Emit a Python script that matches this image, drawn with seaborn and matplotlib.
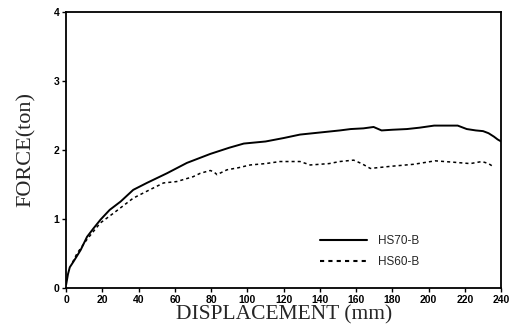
import matplotlib
matplotlib.use('Agg')
import matplotlib.pyplot as plt
import numpy as np
import pandas as pd
import seaborn as sns

# values
hs70_x = [0, 1, 2, 4, 8, 11.5, 15, 19, 24, 30, 37, 44.5, 55.6, 66.6, 79.5, 90, 98, 110, 120,
          129, 140, 151, 157, 164, 169.6, 174, 180, 188, 195, 203, 210, 216, 221, 226, 230,
          233, 236, 238, 240]
hs70_y = [0.05, 0.2, 0.3, 0.38, 0.55, 0.74, 0.86, 0.99, 1.13, 1.25, 1.42, 1.52, 1.66, 1.81,
          1.94, 2.03, 2.09, 2.12, 2.17, 2.22, 2.25, 2.28, 2.30, 2.31, 2.33, 2.28, 2.29, 2.30,
          2.32, 2.35, 2.35, 2.35, 2.30, 2.28, 2.27, 2.24, 2.19, 2.15, 2.12]
hs60_x = [3.5, 6, 11.4, 18.8, 26, 37, 44.5, 53.7, 61, 70, 74, 79.5, 81.5, 83.2, 88.7, 95,
          101.5, 110, 118, 129, 134.7, 145, 151, 158.6, 163, 167.8, 178.8, 191.7, 203.6,
          213.7, 222.9, 229.4, 233, 236]
hs60_y = [0.37, 0.5, 0.7, 0.94, 1.08, 1.30, 1.40, 1.52, 1.54, 1.61, 1.66, 1.70, 1.68, 1.64,
          1.71, 1.74, 1.78, 1.80, 1.83, 1.83, 1.78, 1.80, 1.83, 1.85, 1.80, 1.73, 1.76, 1.79,
          1.84, 1.82, 1.80, 1.83, 1.80, 1.75]
series = ['HS70-B', 'HS60-B']
x_ticks = list(range(0, 241, 20))
y_ticks = [0, 1, 2, 3, 4]

df = pd.concat([
    pd.DataFrame({'disp': hs70_x, 'force': hs70_y, 'specimen': series[0]}),
    pd.DataFrame({'disp': hs60_x, 'force': hs60_y, 'specimen': series[1]}),
])

sns.set_style('ticks')
fig = plt.figure(figsize=(5.21, 3.31), dpi=100)
ax = fig.add_axes([0.127, 0.130, 0.835, 0.835])

sns.lineplot(data=df, x='disp', y='force', hue='specimen', style='specimen',
             palette={'HS70-B': 'black', 'HS60-B': 'black'},
             dashes={'HS70-B': '', 'HS60-B': (2, 2)},
             sort=False, estimator=None, ax=ax)
for line, lw in zip(ax.lines, [1.4, 1.1]):
    line.set_linewidth(lw)

ax.set_xlim(0, 240)
ax.set_ylim(0, 4)
ax.set_xticks(x_ticks)
ax.set_yticks(y_ticks)
ax.tick_params(direction='out', length=3, width=1, colors='black', pad=2)
for lab in ax.get_xticklabels() + ax.get_yticklabels():
    lab.set_fontfamily('Liberation Sans')
    lab.set_fontweight('bold')
    lab.set_fontsize(7.5)
for s in ax.spines.values():
    s.set_visible(True)
    s.set_linewidth(1.3)
    s.set_color('black')

ax.set_xlabel('DISPLACEMENT (mm)', fontfamily='Liberation Serif', fontsize=15.5, labelpad=0)
ax.set_ylabel('FORCE(ton)', fontfamily='Liberation Serif', fontsize=16, labelpad=13)

leg = ax.legend(loc='lower right', bbox_to_anchor=(0.835, 0.035), frameon=False,
                handlelength=4, labelspacing=0.7, handletextpad=0.9,
                prop={'family': 'Liberation Sans', 'size': 8.5})
for h in leg.get_lines():
    h.set_color('black')

fig.savefig('out.png', dpi=100)
